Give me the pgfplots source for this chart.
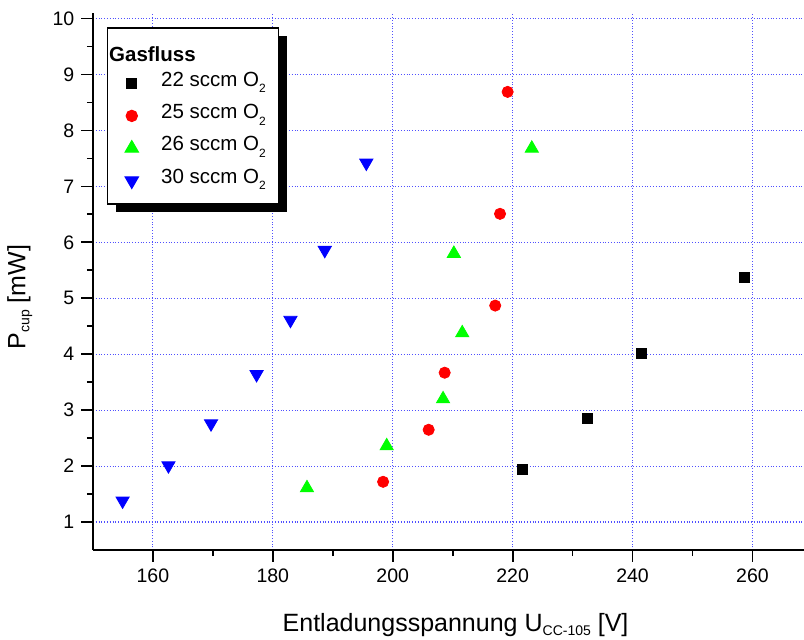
\documentclass[border=0pt]{standalone}
\usepackage{pgfplots}
\pgfplotsset{compat=1.18}
\usepackage{fontspec}
\setmainfont{Liberation Sans}
\usetikzlibrary{shadows,calc}
\definecolor{gridblue}{RGB}{80,80,255}
\definecolor{mgreen}{RGB}{0,255,0}
\newcommand\sbs[3]{\raisebox{#3}{\fontsize{#2}{#2}\selectfont #1}}

\begin{document}
\begin{tikzpicture}
\begin{axis}[
  scale only axis, width=355.5pt, height=268.5pt,
  xmin=150, xmax=268.6, ymin=0.5, ymax=10.1,
  axis x line*=bottom, axis y line*=left,
  axis line style={line width=0.9pt, -},
  xtick={160,180,...,260}, ytick={1,2,...,10},
  minor x tick num=1, minor y tick num=1,
  tick align=outside, major tick length=5.8pt, minor tick length=3pt,
  tick style={line width=0.9pt, black},
  xmajorgrids, ymajorgrids,
  major grid style={gridblue, densely dotted, line width=0.6pt},
  /pgf/number format/assume math mode=true,
  ticklabel style={font=\fontsize{9.75}{11}\selectfont},
  xlabel={Entladungsspannung U\sbs{CC-105}{7pt}{-2pt} [V]},
  ylabel={P\sbs{cup}{7pt}{-2pt} [mW]},
  label style={font=\fontsize{12.5}{14}\selectfont},
  xlabel style={at={(axis description cs:0.51,-0.1508)}, anchor=base},
  ylabel style={at={(axis description cs:-0.1027,0.471)}, anchor=center},
  legend style={at={(axis description cs:0,1)}, anchor=north west, xshift=6.9pt, yshift=-7.15pt,
    draw=black, line width=0.6pt, fill=white,
    drop shadow={fill=black, opacity=1, shadow xshift=4.2pt, shadow yshift=-4.2pt},
    inner xsep=3.7pt, inner ysep=5.35pt, row sep=3.7pt, column sep=11.4pt,
    font=\fontsize{10.25}{12}\selectfont,
    nodes={inner sep=0pt, text height=7.5pt, text depth=5pt}},
  legend cell align=left,
]
\addlegendimage{empty legend}
\addlegendentry{\hspace*{-26pt}\raisebox{-3.75pt}{\textbf{Gasfluss}}}

\addplot[only marks, mark=square*, mark size=2.5pt, black] coordinates {
 (221.55,1.94) (232.4,2.86) (241.55,4.01) (258.7,5.38)};
\addlegendentry{22 sccm O\sbs{2}{6pt}{-3.3pt}\hspace*{2.5pt}}

\addplot[only marks, mark=*, mark size=2.8pt, red] coordinates {
 (198.4,1.72) (206.0,2.65) (208.67,3.67) (217.1,4.87) (217.9,6.51) (219.17,8.69)};
\addlegendentry{25 sccm O\sbs{2}{6pt}{-3.3pt}\hspace*{2.5pt}}

\addplot[only marks, mark=triangle*, mark size=3.8pt, mgreen] coordinates {
 (185.7,1.61) (199.0,2.36) (208.4,3.20) (211.6,4.38) (210.2,5.80) (223.2,7.68)};
\addlegendentry{26 sccm O\sbs{2}{6pt}{-3.3pt}\hspace*{2.5pt}}

\addplot[only marks, mark=triangle*, mark size=3.8pt, blue, mark options={rotate=180}] coordinates {
 (154.95,1.38) (162.6,2.01) (169.7,2.76) (177.3,3.64) (182.95,4.61) (188.67,5.86) (195.6,7.42)};
\addlegendentry{30 sccm O\sbs{2}{6pt}{-3.3pt}\hspace*{2.5pt}}
\end{axis}
\pgfresetboundingbox
\path[use as bounding box] ($(current axis.south west)+(-46.45pt,-44.5pt)$) rectangle ($(current axis.north east)+(0pt,6.5pt)$);
\end{tikzpicture}
\end{document}
